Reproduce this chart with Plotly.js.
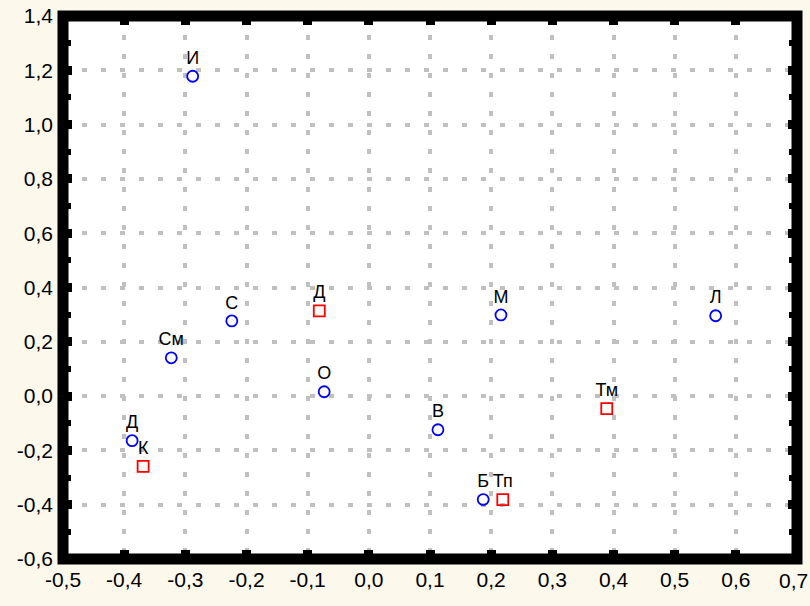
<!DOCTYPE html>
<html>
<head>
<meta charset="utf-8">
<script src="https://cdn.plot.ly/plotly-3.0.1.min.js"></script>
<style>html,body{margin:0;padding:0;background:#fdf8ec;}</style>
</head>
<body>
<div id="chart" style="width:810px;height:606px;"></div>
<script>
// Blue circles
const circleLabels = ["И", "С", "См", "О", "Д", "В", "Б", "М", "Л"];
const circleX = [-0.288, -0.224, -0.323, -0.073, -0.387, 0.113, 0.187, 0.216, 0.567];
const circleY = [1.178, 0.277, 0.141, 0.016, -0.164, -0.124, -0.381, 0.299, 0.296];
// Red squares
const squareLabels = ["Д", "К", "Тп", "Тм"];
const squareX = [-0.081, -0.369, 0.219, 0.389];
const squareY = [0.314, -0.259, -0.381, -0.046];
// Axis ticks
const xTickVals = [-0.5, -0.4, -0.3, -0.2, -0.1, 0.0, 0.1, 0.2, 0.3, 0.4, 0.5, 0.6, 0.7];
const xTickText = ["-0,5", "-0,4", "-0,3", "-0,2", "-0,1", "0,0", "0,1", "0,2", "0,3", "0,4", "0,5", "0,6", "0,7"];
const yTickVals = [-0.6, -0.4, -0.2, 0.0, 0.2, 0.4, 0.6, 0.8, 1.0, 1.2, 1.4];
const yTickText = ["-0,6", "-0,4", "-0,2", "0,0", "0,2", "0,4", "0,6", "0,8", "1,0", "1,2", "1,4"];

const fam = "Liberation Sans";
const tickFont = {family: fam, size: 21, color: "#000000"};
const labelFont = {family: fam, size: 18, color: "#000000"};

// last x tick label is drawn as an annotation flush with the right edge
const lastIdx = xTickText.length - 1;
const shownXText = xTickText.map((t, i) => i === lastIdx ? "" : t);

const traces = [
  {
    x: circleX, y: circleY, text: circleLabels, type: "scatter", mode: "markers+text",
    textposition: "top center", textfont: labelFont,
    marker: {symbol: "circle-open", size: 11, color: "#0000ff", line: {width: 1.8, color: "#0000ff"}},
    cliponaxis: false, hoverinfo: "none"
  },
  {
    x: squareX, y: squareY, text: squareLabels, type: "scatter", mode: "markers+text",
    textposition: "top center", textfont: labelFont,
    marker: {symbol: "square-open", size: 11, color: "#ff0000", line: {width: 1.8, color: "#ff0000"}},
    cliponaxis: false, hoverinfo: "none"
  }
];

const layout = {
  width: 810, height: 606,
  paper_bgcolor: "#fdf8ec", plot_bgcolor: "#ffffff",
  margin: {l: 63, r: 13, t: 16, b: 47},
  showlegend: false,
  font: {family: fam, size: 21, color: "#000000"},
  xaxis: {
    range: [-0.5, 0.7], tickmode: "array", tickvals: xTickVals, ticktext: shownXText,
    ticks: "inside", ticklen: 9, tickwidth: 9, tickcolor: "#000", mirror: "ticks",
    showline: false, ticklabelstandoff: 6, tickfont: tickFont, ticklabeloverflow: "allow",
    showgrid: true, gridcolor: "#c0c0c0", gridwidth: 4, griddash: "5px,14px", zeroline: false
  },
  yaxis: {
    range: [-0.6, 1.4], tickmode: "array", tickvals: yTickVals, ticktext: yTickText,
    ticks: "inside", ticklen: 9, tickwidth: 9, tickcolor: "#000", mirror: "ticks",
    showline: false, ticklabelstandoff: 9, tickfont: tickFont, ticklabeloverflow: "allow",
    minor: {dtick: 0.1, tick0: 0, ticks: "inside", ticklen: 8, tickwidth: 6, tickcolor: "#000", showgrid: false},
    showgrid: true, gridcolor: "#c0c0c0", gridwidth: 4, griddash: "5px,14px", zeroline: false
  },
  annotations: [{
    text: xTickText[lastIdx], xref: "paper", yref: "paper", x: 1, y: 0,
    xanchor: "right", yanchor: "middle", xshift: 12, yshift: -21,
    showarrow: false, font: tickFont, borderpad: 0
  }],
  shapes: [{
    type: "rect", xref: "paper", yref: "paper", x0: 0, x1: 1, y0: 0, y1: 1,
    line: {color: "#000", width: 11}, fillcolor: "rgba(0,0,0,0)", layer: "above"
  }]
};

Plotly.newPlot("chart", traces, layout, {staticPlot: true, displayModeBar: false});
</script>
</body>
</html>
